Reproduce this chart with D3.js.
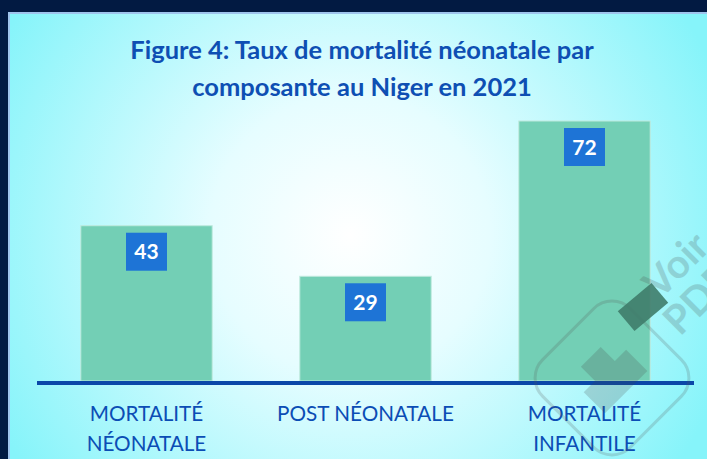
<!DOCTYPE html>
<html>
<head>
<meta charset="utf-8">
<script src="https://cdn.jsdelivr.net/npm/d3@7"></script>
<style>
  html, body { margin: 0; padding: 0; background: #021a42; }
  #chart { width: 707px; height: 459px; }
</style>
</head>
<body>
<div id="chart"></div>
<script>
const categories = [["MORTALITÉ", "NÉONATALE"], ["POST NÉONATALE"], ["MORTALITÉ", "INFANTILE"]];
const values = [43, 29, 72];
const titleLines = ["Figure 4: Taux de mortalité néonatale par", "composante au Niger en 2021"];

const width = 707, height = 459;

const svg = d3.select("#chart")
    .append("svg")
    .attr("width", width)
    .attr("height", height);

const defs = svg.append("defs");
const grad = defs.append("radialGradient")
    .attr("id", "bg")
    .attr("gradientUnits", "userSpaceOnUse")
    .attr("cx", 350).attr("cy", 235).attr("r", 400);
grad.append("stop").attr("offset", "0%").attr("stop-color", "#ffffff");
grad.append("stop").attr("offset", "35%").attr("stop-color", "#e6fdff");
grad.append("stop").attr("offset", "100%").attr("stop-color", "#86f4fa");

// fond
svg.append("rect").attr("width", width).attr("height", height).attr("fill", "#021a42");
svg.append("rect")
    .attr("x", 9).attr("y", 13)
    .attr("width", width).attr("height", height)
    .attr("fill", "url(#bg)")
    .attr("stroke", "#9fc4ec")
    .attr("stroke-width", 2);

// titre
svg.append("text")
    .attr("x", 362)
    .attr("y", 59)
    .attr("text-anchor", "middle")
    .attr("font-family", "Lato, 'Open Sans', sans-serif")
    .attr("font-weight", "bold")
    .attr("font-size", "25.5px")
    .attr("fill", "#0e4fb3")
    .selectAll("tspan")
    .data(titleLines)
    .enter()
    .append("tspan")
    .attr("x", 362)
    .attr("dy", (d, i) => i === 0 ? 0 : 37)
    .text(d => d);

const x = d3.scaleBand()
    .domain(d3.range(values.length))
    .range([37, 694])
    .paddingInner(0.4)
    .paddingOuter(0.2);

const y = d3.scaleLinear()
    .domain([0, 72])
    .range([381, 121]);

// barres
svg.selectAll("rect.bar")
    .data(values)
    .enter()
    .append("rect")
    .attr("class", "bar")
    .attr("x", (d, i) => x(i))
    .attr("y", d => y(d))
    .attr("width", x.bandwidth())
    .attr("height", d => y(0) - y(d))
    .attr("fill", "#73cfb5")
    .attr("stroke", "#bfeade")
    .attr("stroke-width", 1);

// étiquettes de valeurs
const lab = svg.selectAll("g.lab")
    .data(values)
    .enter()
    .append("g")
    .attr("class", "lab")
    .attr("transform", (d, i) => `translate(${x(i) + x.bandwidth() / 2},${y(d) + 7})`);

lab.append("rect")
    .attr("x", -20.5)
    .attr("width", 41)
    .attr("height", 38)
    .attr("fill", "#1e74d6");

lab.append("text")
    .attr("y", 26.5)
    .attr("text-anchor", "middle")
    .attr("font-family", "Lato, 'Open Sans', sans-serif")
    .attr("font-weight", "bold")
    .attr("font-size", "21px")
    .attr("fill", "#ffffff")
    .text(d => d);

// axe
svg.append("line")
    .attr("x1", 37).attr("x2", 694)
    .attr("y1", 383).attr("y2", 383)
    .attr("stroke", "#0a47a8")
    .attr("stroke-width", 4);

// catégories
svg.selectAll("text.cat")
    .data(categories)
    .enter()
    .append("text")
    .attr("class", "cat")
    .attr("text-anchor", "middle")
    .attr("font-family", "Lato, 'Open Sans', sans-serif")
    .attr("font-size", "20.7px")
    .attr("fill", "#0b4db5")
    .each(function (d, i) {
        d3.select(this).selectAll("tspan")
            .data(d)
            .enter()
            .append("tspan")
            .attr("x", x(i) + x.bandwidth() / 2)
            .attr("y", (t, j) => 420.5 + j * 30)
            .text(t => t);
    });

// filigrane
const wm = svg.append("g")
    .attr("transform", "translate(612,378) rotate(-45)")
    .attr("opacity", 0.2);
wm.append("rect")
    .attr("x", -62).attr("y", -62)
    .attr("width", 124).attr("height", 124)
    .attr("rx", 26)
    .attr("fill", "none")
    .attr("stroke", "#555")
    .attr("stroke-width", 3);
wm.append("rect")
    .attr("x", -30).attr("y", -10)
    .attr("width", 60).attr("height", 30)
    .attr("fill", "#444");
wm.append("rect")
    .attr("x", -14).attr("y", -30)
    .attr("width", 28).attr("height", 30)
    .attr("fill", "#444");
wm.append("text")
    .attr("x", 89).attr("y", -21)
    .attr("font-family", "Lato, sans-serif")
    .attr("font-weight", "bold")
    .attr("font-size", "40px")
    .attr("fill", "#444")
    .text("Voir");
wm.append("text")
    .attr("x", 77).attr("y", 19)
    .attr("font-family", "Lato, sans-serif")
    .attr("font-weight", "bold")
    .attr("font-size", "40px")
    .attr("fill", "#444")
    .text("PDF");

svg.append("rect")
    .attr("transform", "translate(643,307) rotate(-40)")
    .attr("x", -22).attr("y", -13)
    .attr("width", 44).attr("height", 26)
    .attr("fill", "#3f7c6a")
    .attr("opacity", 0.9);
</script>
</body>
</html>
